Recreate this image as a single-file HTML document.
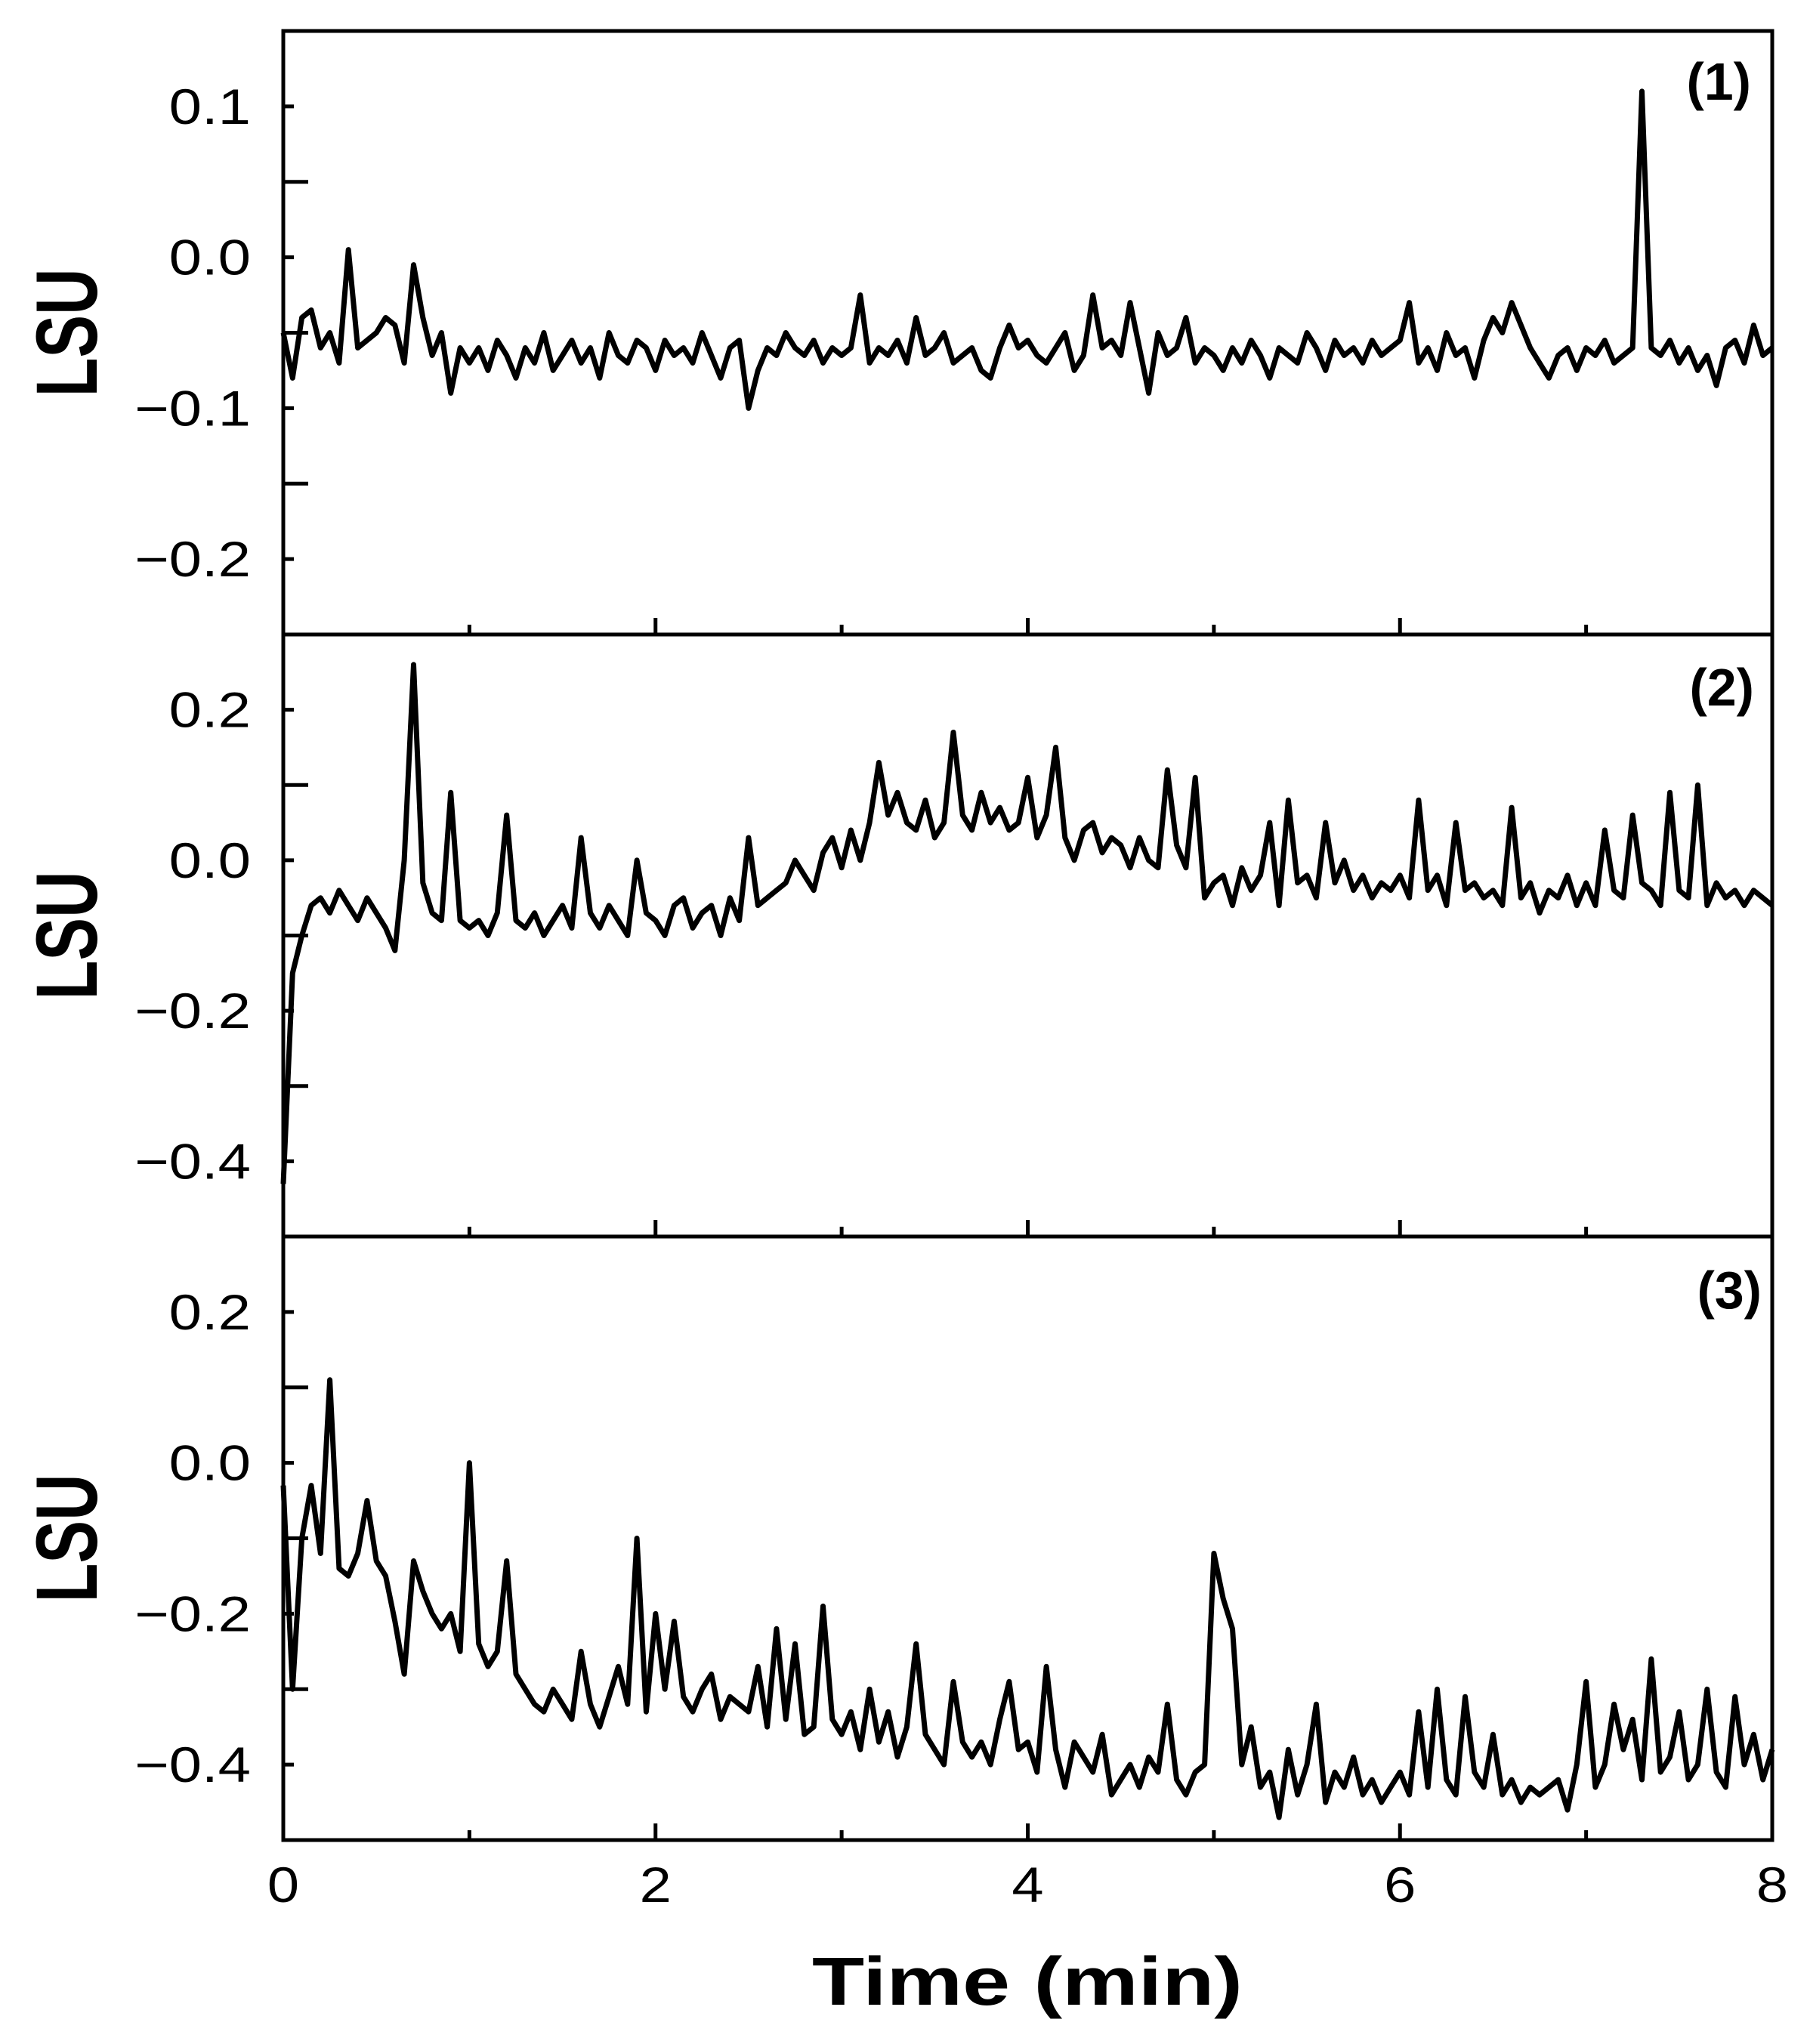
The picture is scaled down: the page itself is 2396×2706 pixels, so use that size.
<!DOCTYPE html>
<html><head><meta charset="utf-8"><style>
html,body{margin:0;padding:0;background:#fff;}
svg{display:block;}
text{font-family:"Liberation Sans",sans-serif;fill:#000;}
</style></head><body>
<svg id="chart" width="2396" height="2706" viewBox="0 0 2396 2706" xmlns="http://www.w3.org/2000/svg"></svg>
<script>
const timeStep = 0.05;
const xTickLabels = ["0","2","4","6","8"];
const panelNames = ["(1)","(2)","(3)"];
const series1 = [
-0.05,-0.08,-0.04,-0.035,-0.06,-0.05,-0.07,0.005,-0.06,-0.055,-0.05,-0.04,-0.045,-0.07,-0.005,-0.04,-0.065,-0.05,-0.09,-0.06,
-0.07,-0.06,-0.075,-0.055,-0.065,-0.08,-0.06,-0.07,-0.05,-0.075,-0.065,-0.055,-0.07,-0.06,-0.08,-0.05,-0.065,-0.07,-0.055,-0.06,
-0.075,-0.055,-0.065,-0.06,-0.07,-0.05,-0.065,-0.08,-0.06,-0.055,-0.1,-0.075,-0.06,-0.065,-0.05,-0.06,-0.065,-0.055,-0.07,-0.06,
-0.065,-0.06,-0.025,-0.07,-0.06,-0.065,-0.055,-0.07,-0.04,-0.065,-0.06,-0.05,-0.07,-0.065,-0.06,-0.075,-0.08,-0.06,-0.045,-0.06,
-0.055,-0.065,-0.07,-0.06,-0.05,-0.075,-0.065,-0.025,-0.06,-0.055,-0.065,-0.03,-0.06,-0.09,-0.05,-0.065,-0.06,-0.04,-0.07,-0.06,
-0.065,-0.075,-0.06,-0.07,-0.055,-0.065,-0.08,-0.06,-0.065,-0.07,-0.05,-0.06,-0.075,-0.055,-0.065,-0.06,-0.07,-0.055,-0.065,-0.06,
-0.055,-0.03,-0.07,-0.06,-0.075,-0.05,-0.065,-0.06,-0.08,-0.055,-0.04,-0.05,-0.03,-0.045,-0.06,-0.07,-0.08,-0.065,-0.06,-0.075,
-0.06,-0.065,-0.055,-0.07,-0.065,-0.06,0.11,-0.06,-0.065,-0.055,-0.07,-0.06,-0.075,-0.065,-0.085,-0.06,-0.055,-0.07,-0.045,-0.065,-0.06];
const series2 = [
-0.43,-0.15,-0.1,-0.06,-0.05,-0.07,-0.04,-0.06,-0.08,-0.05,-0.07,-0.09,-0.12,0.0,0.26,-0.03,-0.07,-0.08,0.09,-0.08,
-0.09,-0.08,-0.1,-0.07,0.06,-0.08,-0.09,-0.07,-0.1,-0.08,-0.06,-0.09,0.03,-0.07,-0.09,-0.06,-0.08,-0.1,0.0,-0.07,
-0.08,-0.1,-0.06,-0.05,-0.09,-0.07,-0.06,-0.1,-0.05,-0.08,0.03,-0.06,-0.05,-0.04,-0.03,0.0,-0.02,-0.04,0.01,0.03,
-0.01,0.04,0.0,0.05,0.13,0.06,0.09,0.05,0.04,0.08,0.03,0.05,0.17,0.06,0.04,0.09,0.05,0.07,0.04,0.05,
0.11,0.03,0.06,0.15,0.03,0.0,0.04,0.05,0.01,0.03,0.02,-0.01,0.03,0.0,-0.01,0.12,0.02,-0.01,0.11,-0.05,
-0.03,-0.02,-0.06,-0.01,-0.04,-0.02,0.05,-0.06,0.08,-0.03,-0.02,-0.05,0.05,-0.03,0.0,-0.04,-0.02,-0.05,-0.03,-0.04,
-0.02,-0.05,0.08,-0.04,-0.02,-0.06,0.05,-0.04,-0.03,-0.05,-0.04,-0.06,0.07,-0.05,-0.03,-0.07,-0.04,-0.05,-0.02,-0.06,
-0.03,-0.06,0.04,-0.04,-0.05,0.06,-0.03,-0.04,-0.06,0.09,-0.04,-0.05,0.1,-0.06,-0.03,-0.05,-0.04,-0.06,-0.04,-0.05,-0.06];
const series3 = [
-0.03,-0.3,-0.1,-0.03,-0.12,0.11,-0.14,-0.15,-0.12,-0.05,-0.13,-0.15,-0.21,-0.28,-0.13,-0.17,-0.2,-0.22,-0.2,-0.25,
0.0,-0.24,-0.27,-0.25,-0.13,-0.28,-0.3,-0.32,-0.33,-0.3,-0.32,-0.34,-0.25,-0.32,-0.35,-0.31,-0.27,-0.32,-0.1,-0.33,
-0.2,-0.3,-0.21,-0.31,-0.33,-0.3,-0.28,-0.34,-0.31,-0.32,-0.33,-0.27,-0.35,-0.22,-0.34,-0.24,-0.36,-0.35,-0.19,-0.34,
-0.36,-0.33,-0.38,-0.3,-0.37,-0.33,-0.39,-0.35,-0.24,-0.36,-0.38,-0.4,-0.29,-0.37,-0.39,-0.37,-0.4,-0.34,-0.29,-0.38,
-0.37,-0.41,-0.27,-0.38,-0.43,-0.37,-0.39,-0.41,-0.36,-0.44,-0.42,-0.4,-0.43,-0.39,-0.41,-0.32,-0.42,-0.44,-0.41,-0.4,
-0.12,-0.18,-0.22,-0.4,-0.35,-0.43,-0.41,-0.47,-0.38,-0.44,-0.4,-0.32,-0.45,-0.41,-0.43,-0.39,-0.44,-0.42,-0.45,-0.43,
-0.41,-0.44,-0.33,-0.43,-0.3,-0.42,-0.44,-0.31,-0.41,-0.43,-0.36,-0.44,-0.42,-0.45,-0.43,-0.44,-0.43,-0.42,-0.46,-0.4,
-0.29,-0.43,-0.4,-0.32,-0.38,-0.34,-0.42,-0.26,-0.41,-0.39,-0.33,-0.42,-0.4,-0.3,-0.41,-0.43,-0.31,-0.4,-0.36,-0.42,-0.38];
const yTickLabels1 = ["0.1","0.0","\u22120.1","\u22120.2"];
const yTickValues1 = [0.1,0.0,-0.1,-0.2];
const yTickLabels23 = ["0.2","0.0","\u22120.2","\u22120.4"];
const yTickValues23 = [0.2,0.0,-0.2,-0.4];

const NS="http://www.w3.org/2000/svg";
const svg=document.getElementById('chart');
const L=375,R=2346;
const panels=[
 {top:41,bottom:840,ymin:-0.25,ymax:0.15,minorStep:0.05,data:series1,tv:yTickValues1,tl:yTickLabels1,lbX:2318,lbY:132},
 {top:840,bottom:1637,ymin:-0.5,ymax:0.3,minorStep:0.1,data:series2,tv:yTickValues23,tl:yTickLabels23,lbX:2322,lbY:934},
 {top:1637,bottom:2436,ymin:-0.5,ymax:0.3,minorStep:0.1,data:series3,tv:yTickValues23,tl:yTickLabels23,lbX:2332,lbY:1732}
];
function xs(t){return L+(t/8)*(R-L);}
function mk(tag,attrs){const e=document.createElementNS(NS,tag);for(const k in attrs)e.setAttribute(k,attrs[k]);svg.appendChild(e);return e;}
function widen(t,f){const w=t.getComputedTextLength();t.setAttribute('textLength',(w*f).toFixed(1));t.setAttribute('lengthAdjust','spacingAndGlyphs');}

panels.forEach((p,pi)=>{
 const ys=v=>p.bottom-(v-p.ymin)/(p.ymax-p.ymin)*(p.bottom-p.top);
 const box=mk('rect',{x:L,y:p.top,width:R-L,height:p.bottom-p.top,fill:'none',stroke:'#000','stroke-width':5});
 
 
 const n=Math.round((p.ymax-p.ymin)/p.minorStep);
 for(let i=0;i<=n;i++){
  const v=p.ymin+i*p.minorStep;
  const major=p.tv.some(m=>Math.abs(m-v)<1e-6);
  const len=major?14:33;
  const y=ys(v);
  if(y<=p.top+2||y>=p.bottom-2)continue;
  const tk=mk('line',{x1:L,x2:L+len,y1:y,y2:y,stroke:'#000','stroke-width':5});
  
  
 }
 p.tv.forEach((v,i)=>{
  const t=mk('text',{x:332,y:ys(v)+23,'font-size':66,'text-anchor':'end'});
  t.textContent=p.tl[i];
  
  
  widen(t,1.18);
 });
 for(let k=1;k<8;k++){
  const len=(k%2===0)?22:13;
  const tk=mk('line',{x1:xs(k),x2:xs(k),y1:p.bottom,y2:p.bottom-len,stroke:'#000','stroke-width':5});
  
  
 }
 const cy=(p.top+p.bottom)/2;
 const yt=mk('text',{x:0,y:0,'font-size':115,'font-weight':'bold','text-anchor':'middle',textLength:170,lengthAdjust:'spacingAndGlyphs',transform:'translate(128,'+cy+') rotate(-90)'});
 yt.textContent='LSU';
 
 
 const pl=mk('text',{x:p.lbX,y:p.lbY,'font-size':70,'font-weight':'bold','text-anchor':'end'});
 pl.textContent=panelNames[pi];
 
 
 let d='';
 p.data.forEach((v,i)=>{d+=(i?'L':'M')+xs(i*timeStep).toFixed(1)+','+ys(v).toFixed(1);});
 const path=mk('path',{d:d,fill:'none',stroke:'#000','stroke-width':7,'stroke-linejoin':'round'});
 
 
});
xTickLabels.forEach(s=>{
 const t=mk('text',{x:xs(parseFloat(s)),y:2518,'font-size':66,'text-anchor':'middle'});
 t.textContent=s;
 
 
 widen(t,1.15);
});
const xt=mk('text',{x:1360,y:2654,'font-size':90,'font-weight':'bold','text-anchor':'middle',textLength:570,lengthAdjust:'spacingAndGlyphs'});
xt.textContent='Time (min)';


</script>
</body></html>
